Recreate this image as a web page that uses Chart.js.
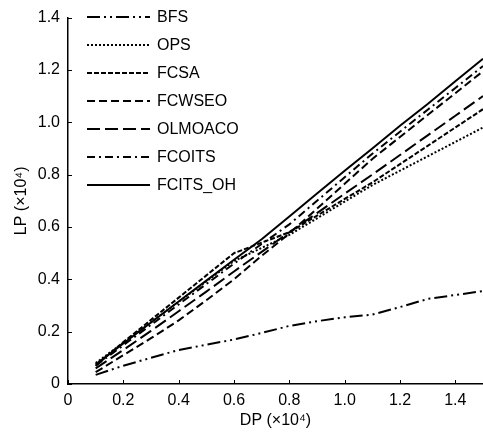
<!DOCTYPE html>
<html lang="en">
<head>
  <meta charset="UTF-8">
  <title>LP vs DP</title>
  <script src="https://cdn.jsdelivr.net/npm/chart.js"></script>
  <style>
    body { margin: 0; background: #fff; }
    #wrap { width: 483px; height: 435px; }
  </style>
</head>
<body>
  <div id="wrap"><canvas id="lpChart" width="483" height="435"></canvas></div>
  <script>
    // DP (x10^4)
    const dp = [0.1, 0.2, 0.3, 0.4, 0.5, 0.6, 0.7, 0.8, 0.9, 1.0, 1.1, 1.2, 1.3, 1.4, 1.5];

    // LP (x10^4) per algorithm
    const bfs      = [0.035, 0.07, 0.10, 0.13, 0.15, 0.17, 0.195, 0.222, 0.24, 0.255, 0.265, 0.294, 0.325, 0.34, 0.355];
    const ops      = [0.08, 0.158, 0.236, 0.314, 0.392, 0.47, 0.52, 0.57, 0.633, 0.697, 0.76, 0.815, 0.87, 0.925, 0.98];
    const fcsa     = [0.07, 0.16, 0.245, 0.33, 0.415, 0.50, 0.54, 0.58, 0.643, 0.707, 0.77, 0.84, 0.91, 0.98, 1.05];
    const fcwseo   = [0.045, 0.11, 0.175, 0.243, 0.32, 0.40, 0.49, 0.575, 0.67, 0.765, 0.86, 0.944, 1.028, 1.111, 1.195];
    const olmoaco  = [0.06, 0.13, 0.203, 0.278, 0.353, 0.43, 0.505, 0.58, 0.653, 0.727, 0.80, 0.875, 0.95, 1.025, 1.10];
    const fcoits   = [0.07, 0.148, 0.226, 0.304, 0.382, 0.46, 0.535, 0.61, 0.70, 0.79, 0.88, 0.964, 1.048, 1.131, 1.215];
    const fcitsOh  = [0.075, 0.155, 0.235, 0.315, 0.395, 0.475, 0.553, 0.64, 0.728, 0.815, 0.90, 0.987, 1.07, 1.157, 1.243];

    const names = ['BFS', 'OPS', 'FCSA', 'FCWSEO', 'OLMOACO', 'FCOITS', 'FCITS_OH'];
    const xTicks = [0, 0.2, 0.4, 0.6, 0.8, 1.0, 1.2, 1.4];
    const yTicks = [0, 0.2, 0.4, 0.6, 0.8, 1.0, 1.2, 1.4];

    const series = [bfs, ops, fcsa, fcwseo, olmoaco, fcoits, fcitsOh];
    const dashes = [
      [13, 4, 2, 4, 2, 4],
      [2, 2],
      [5, 2],
      [8, 4],
      [13, 5],
      [8, 4, 2, 4],
      []
    ];

    const FONT = "'Liberation Sans', Arial, sans-serif";

    const datasets = series.map((ys, i) => ({
      label: names[i],
      data: dp.map((x, j) => ({ x: x, y: ys[j] })),
      borderColor: '#000',
      borderWidth: 2,
      borderDash: dashes[i],
      pointRadius: 0,
      tension: 0,
      fill: false
    }));

    // legend drawn inside the plot + inward ticks
    const extras = {
      id: 'extras',
      afterDraw(chart) {
        const ctx = chart.ctx;
        const xs = chart.scales.x, ys = chart.scales.y;
        ctx.save();
        ctx.strokeStyle = '#000';
        ctx.lineWidth = 1;
        ctx.setLineDash([]);
        xTicks.forEach(v => {
          const px = Math.round(xs.getPixelForValue(v)) + 0.5;
          ctx.beginPath();
          ctx.moveTo(px, ys.bottom);
          ctx.lineTo(px, ys.bottom - 4);
          ctx.stroke();
        });
        yTicks.forEach(v => {
          const py = Math.round(ys.getPixelForValue(v)) + 0.5;
          ctx.beginPath();
          ctx.moveTo(xs.left, py);
          ctx.lineTo(xs.left + 4, py);
          ctx.stroke();
        });

        ctx.font = '16px ' + FONT;
        ctx.fillStyle = '#000';
        ctx.textBaseline = 'middle';
        chart.data.datasets.forEach((ds, i) => {
          const y = 17 + i * 28;
          ctx.lineWidth = 2;
          ctx.setLineDash(ds.borderDash);
          ctx.beginPath();
          ctx.moveTo(87, y);
          ctx.lineTo(150, y);
          ctx.stroke();
          ctx.setLineDash([]);
          ctx.fillText(ds.label, 157, y + 1);
        });
        ctx.restore();
      }
    };

    new Chart(document.getElementById('lpChart'), {
      type: 'line',
      data: { datasets: datasets },
      options: {
        responsive: false,
        animation: false,
        layout: { padding: { top: 17, right: 0, left: 0, bottom: 0 } },
        plugins: { legend: { display: false }, tooltip: { enabled: false } },
        scales: {
          x: {
            type: 'linear',
            min: 0,
            max: 1.5,
            grid: { display: false, drawTicks: false },
            border: { display: true, color: '#000', width: 1.5 },
            afterBuildTicks: s => { s.ticks = xTicks.map(v => ({ value: v })); },
            ticks: {
              color: '#000',
              padding: 7,
              font: { family: FONT, size: 16 },
              maxRotation: 0,
              callback: v => v === 0 ? '0' : v.toFixed(1)
            },
            title: {
              display: true,
              text: 'DP (×10⁴)',
              color: '#000',
              font: { family: FONT, size: 16 },
              padding: { top: 2, bottom: 5 }
            },
            afterFit: s => { s.height = 51; }
          },
          y: {
            type: 'linear',
            min: 0,
            max: 1.4,
            grid: { display: false, drawTicks: false },
            border: { display: true, color: '#000', width: 1.5 },
            afterBuildTicks: s => { s.ticks = yTicks.map(v => ({ value: v })); },
            ticks: {
              color: '#000',
              padding: 8,
              font: { family: FONT, size: 16 },
              callback: v => v === 0 ? '0' : v.toFixed(1)
            },
            title: {
              display: true,
              text: 'LP (×10⁴)',
              color: '#000',
              font: { family: FONT, size: 16 },
              padding: { top: 12, bottom: 4 }
            },
            afterFit: s => { s.width = 68; }
          }
        }
      },
      plugins: [extras]
    });
  </script>
</body>
</html>
